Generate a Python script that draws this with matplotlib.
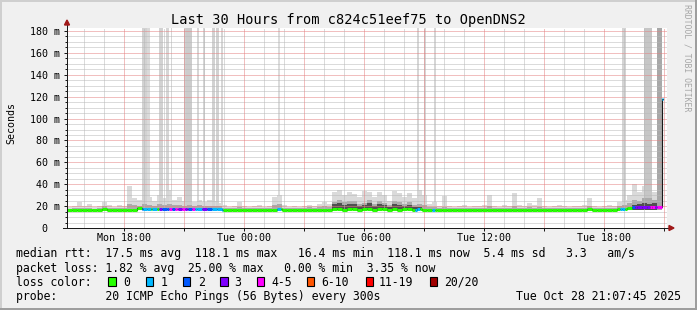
import numpy as np
import matplotlib
matplotlib.use("Agg")
import matplotlib.pyplot as plt
import matplotlib.dates as mdates
from matplotlib.collections import LineCollection
from matplotlib.patches import Rectangle, Polygon
from matplotlib.ticker import FixedLocator, MultipleLocator
from datetime import datetime, timedelta
from bisect import bisect_right

W, H = 697, 310
MONO = "DejaVu Sans Mono"
plt.rcParams["lines.scale_dashes"] = False

# ---- values ----
title = "Last 30 Hours from c824c51eef75 to OpenDNS2"
t_start = datetime(2025, 10, 27, 15, 7, 45)
t_end = datetime(2025, 10, 28, 21, 7, 45)
bin_hours = 0.25      # one value per 15 min
data_end_h = 29.8

# median rtt (ms) per bin
median = [
    16.8, 16.8, 16.8, 16.8, 16.8, 16.8, 16.8, 17.0, 16.8, 16.8, 16.8, 16.8,
    16.8, 16.8, 18.3, 17.5, 17.5, 17.5, 17.8, 17.8, 17.5, 17.5, 17.8, 17.8,
    17.8, 17.5, 17.5, 17.5, 17.5, 17.5, 17.5, 16.8, 16.8, 16.8, 16.8, 16.8,
    16.8, 16.8, 16.8, 16.8, 16.8, 16.8, 17.2, 16.8, 16.8, 16.8, 16.8, 16.8,
    16.8, 16.8, 16.8, 16.8, 16.8, 17.2, 17.8, 16.8, 17.2, 17.2, 16.8, 17.5,
    17.0, 16.8, 17.5, 17.2, 16.8, 17.5, 16.8, 17.2, 17.0, 16.8, 17.3, 16.8,
    16.8, 16.8, 16.8, 16.8, 16.8, 16.8, 16.8, 16.8, 16.8, 16.8, 16.8, 16.8,
    16.8, 16.8, 16.8, 16.8, 16.8, 16.8, 16.8, 16.8, 16.8, 16.8, 16.8, 16.8,
    16.8, 16.8, 16.8, 16.8, 16.8, 16.8, 16.8, 16.8, 17.0, 16.8, 16.8, 16.8,
    16.8, 16.8, 17.0, 17.5, 18.0, 19.0, 19.2, 19.2, 19.0, 19.5, 19.2, 118.1,
]

# smoke: max ping, upper core, dark core (0 = none)
smoke_max = [
    19, 20, 24, 20, 22, 19, 20, 24, 21, 19, 21, 20,
    38, 27, 26, 30, 28, 25, 30, 27, 35, 26, 28, 25,
    27, 24, 26, 24, 26, 25, 23, 21, 19, 20, 24, 20,
    19, 20, 21, 19, 20, 28, 30, 21, 19, 20, 19, 20,
    21, 20, 22, 24, 22, 33, 35, 30, 33, 31, 28, 34,
    33, 28, 33, 30, 25, 34, 32, 28, 32, 27, 35, 30,
    22, 24, 20, 29, 20, 19, 20, 21, 19, 20, 20, 21,
    30, 20, 19, 21, 20, 32, 21, 20, 23, 21, 27, 20,
    19, 20, 21, 20, 19, 20, 20, 21, 27, 20, 19, 20,
    21, 20, 24, 26, 30, 40, 33, 38, 40, 33, 40, np.nan,
]
smoke_core = [
    17.5, 18, 18.5, 18, 18, 17.5, 18, 20, 18.5, 18, 18, 18,
    22, 21, 20, 22, 21, 20, 22, 21, 22, 21, 21, 20,
    21, 20, 21, 20, 20, 20, 20, 18.5, 18, 18, 19, 18,
    18, 18, 18, 18, 18, 21, 22, 18, 18, 18, 18, 18.5,
    19, 18.5, 19, 20, 19.5, 24, 26, 24, 25, 25, 22, 23,
    26, 22, 25, 23, 21, 25, 24, 22, 24, 21, 22, 21,
    19, 19, 18, 19, 18, 18, 18, 18, 18, 18, 18, 18,
    20, 18, 18, 18, 18, 20, 18, 18, 19.5, 18, 19, 18,
    18, 18, 18, 18, 18, 18, 18, 18, 20, 18, 18, 18,
    18, 18, 20, 21, 23, 26, 25, 27, 27, 26, 28, np.nan,
]
smoke_dark = [
    0, 0, 0, 0, 0, 0, 0, 0, 0, 0, 0, 0,
    0, 0, 0, 0, 0, 0, 0, 0, 0, 0, 0, 0,
    0, 0, 0, 0, 0, 0, 0, 0, 0, 0, 0, 0,
    0, 0, 0, 0, 0, 0, 0, 0, 0, 0, 0, 0,
    0, 0, 0, 0, 0, 22, 23, 21, 22, 22, 20, 21,
    23, 20, 22, 21, 19.5, 22, 21, 20, 21, 19.5, 19, 19,
    0, 0, 0, 0, 0, 0, 0, 0, 0, 0, 0, 0,
    0, 0, 0, 0, 0, 0, 0, 0, 0, 0, 0, 0,
    0, 0, 0, 0, 0, 0, 0, 0, 0, 0, 0, 0,
    0, 0, 0, 0, 0, 21, 22, 23, 22, 23, 24, 0,
]

# tall spikes (hours since start)
spike_start_h = [3.775, 4.0, 4.6, 4.975, 5.175, 5.825, 5.95, 6.5, 6.825, 7.25,
                 7.45, 7.7, 10.575, 17.5, 17.85, 18.325, 27.775, 28.85, 29.475]
spike_end_h = [3.975, 4.175, 4.8, 5.075, 5.25, 5.925, 6.225, 6.6, 6.925, 7.4,
               7.6, 7.8, 10.675, 17.625, 17.95, 18.45, 27.95, 29.25, 29.735]
spike_shade = ["#d2d2d2", "#dadada", "#d2d2d2", "#d6d6d6", "#d6d6d6", "#d0d0d0",
               "#cccccc", "#d6d6d6", "#d6d6d6", "#d2d2d2", "#d2d2d2", "#d6d6d6",
               "#dcdcdc", "#d6d6d6", "#d6d6d6", "#d6d6d6", "#d4d4d4", "#c6c6c6",
               "#a8a8a8"]

# packet loss bucket, starting at the given hour
loss_start_h = [0.0, 3.735, 3.815, 4.185, 4.235, 4.485, 4.585, 4.735, 5.1, 5.235,
                5.4, 5.565, 5.735, 5.9, 6.05, 6.235, 6.4, 6.735, 6.985, 7.235,
                7.815, 10.485, 10.7, 17.4, 17.65, 18.235, 18.4, 27.65, 27.9, 28.235,
                28.4, 29.15, 29.4, 29.485, 29.75]
loss_level = [0, 2, 1, 0, 1, 0, 3, 2, 4, 2,
              4, 3, 4, 3, 2, 4, 1, 3, 2, 1,
              0, 1, 0, 1, 0, 1, 0, 1, 0, 2,
              3, 4, 3, 4, 1]

loss_labels = ["0", "1", "2", "3", "4-5", "6-10", "11-19", "20/20"]
loss_colors = ["#26ff00", "#00b8ff", "#0059ff", "#7e00ff",
               "#ff00ff", "#ff5500", "#ff0000", "#a10000"]

y_ticks = [0, 20, 40, 60, 80, 100, 120, 140, 160, 180]
y_labels = ["0", "20 m", "40 m", "60 m", "80 m", "100 m", "120 m", "140 m", "160 m", "180 m"]

legend_rtt = "median rtt:  17.5 ms avg  118.1 ms max   16.4 ms min  118.1 ms now  5.4 ms sd   3.3   am/s"
legend_loss = "packet loss: 1.82 % avg  25.00 % max   0.00 % min  3.35 % now"
legend_probe = "probe:       20 ICMP Echo Pings (56 Bytes) every 300s"
stamp = "Tue Oct 28 21:07:45 2025"


def fx(px):
    return px / W


def fy(py):
    return 1 - py / H


x0 = mdates.date2num(t_start)


def tnum(h):
    return x0 + np.asarray(h, dtype=float) / 24.0


fig = plt.figure(figsize=(W / 100, H / 100), dpi=100, facecolor="#f0f0f0")
ax = fig.add_axes([fx(67), fy(228), 600 / W, 200 / H])
ax.set_facecolor("white")
ymax = 200 / (197 / 180)
ax.set_xlim(tnum(0), mdates.date2num(t_end))
ax.set_ylim(0, ymax)
for s in ax.spines.values():
    s.set_visible(False)

n = len(median)
edges = tnum(np.arange(n + 1) * bin_hours)


def stepvals(v):
    v = np.asarray(v, dtype=float)
    return np.append(v, v[-1])


# smoke
ax.fill_between(edges, 16.0, stepvals(smoke_max), step="post", color="#dadada", lw=0, zorder=1)
for a, b, c in zip(spike_start_h, spike_end_h, spike_shade):
    ax.fill_between(tnum([a, b]), 16.0, ymax, color=c, lw=0, zorder=1.2)
ax.fill_between(edges, 16.0, stepvals(smoke_core), step="post", color="#ababab", lw=0, zorder=1.4)
dark = np.where(np.array(smoke_dark, float) > 0, smoke_dark, np.nan)
ax.fill_between(edges, 16.0, stepvals(dark), step="post", color="#505050", lw=0, zorder=1.5)

# grid, 1px dots
px = 72 / 100
dots = (0, (px, px))
for v in np.arange(5, 185, 5):
    c = "#e48080" if v % 20 == 0 else "#b8b8b8"
    ax.axhline(v, color=c, lw=px, ls=dots, zorder=2, snap=True)
t = t_start.replace(minute=0, second=0) + timedelta(hours=1)
while t < t_end:
    c = "#e48080" if t.hour % 3 == 0 else "#b8b8b8"
    ax.axvline(mdates.date2num(t), color=c, lw=px, ls=dots, zorder=2, snap=True)
    t += timedelta(hours=1)

# median line: thin dark step plus loss-coloured segments
xs = tnum(np.append(np.arange(n) * bin_hours, data_end_h))
ax.step(xs, stepvals(median), where="post", color="#1a1a1a", lw=0.8, zorder=3)

cuts = sorted(set(list(np.arange(n) * bin_hours) + loss_start_h + [data_end_h]))
cuts = [c for c in cuts if c <= data_end_h]
segs, cols = [], []
for a, b in zip(cuts[:-1], cuts[1:]):
    m = median[min(int(np.floor(a / bin_hours + 1e-9)), n - 1)]
    lv = loss_level[bisect_right(loss_start_h, a + 1e-9) - 1]
    segs.append([(tnum(a), m), (tnum(b), m)])
    cols.append(loss_colors[lv])
ax.add_collection(LineCollection(segs, colors=cols, linewidths=2.2, zorder=4, capstyle="butt"))

# axes, arrows
axis_c = "#1a1a1a"
arrow_c = "#a01818"
ax.plot([0, 0], [0, 1 + 5 / 200], transform=ax.transAxes, color=axis_c, lw=px,
        clip_on=False, zorder=5, antialiased=False)
ax.plot([-4 / 600, 1 + 2 / 600], [0, 0], transform=ax.transAxes, color=axis_c, lw=px,
        clip_on=False, zorder=5, antialiased=False)
ax.add_patch(Polygon([(-2.5 / 600, 1 + 3 / 200), (2.5 / 600, 1 + 3 / 200), (0, 1 + 8 / 200)],
                     closed=True, transform=ax.transAxes, color=arrow_c, clip_on=False, zorder=6))
ax.add_patch(Polygon([(1 + 2 / 600, 2.5 / 200), (1 + 2 / 600, -2.5 / 200), (1 + 7 / 600, 0)],
                     closed=True, transform=ax.transAxes, color=arrow_c, clip_on=False, zorder=6))

# ticks
ax.xaxis_date()
ax.xaxis.set_major_locator(mdates.HourLocator(byhour=[0, 6, 12, 18]))
ax.xaxis.set_major_formatter(mdates.DateFormatter("%a %H:%M"))
ax.xaxis.set_minor_locator(mdates.HourLocator(byhour=range(0, 24, 3)))
ax.yaxis.set_major_locator(FixedLocator(y_ticks))
ax.yaxis.set_minor_locator(MultipleLocator(5))
ax.tick_params(axis="x", which="both", length=2.2, width=px, color=axis_c, pad=1.6,
               labelsize=7.2)
ax.tick_params(axis="y", which="major", length=2.5, width=px, color=axis_c, labelleft=False)
ax.tick_params(axis="y", which="minor", length=1.5, width=px, color=axis_c)
for lab in ax.get_xticklabels():
    lab.set_family(MONO)

cw = 6.0  # px per char of tick font
for v, lab in zip(y_ticks, y_labels):
    right = -7.5 if " " in lab else -7.5 - 2 * cw
    ax.text(right / 600, v, lab, transform=ax.get_yaxis_transform(), ha="right",
            va="center_baseline", fontsize=7.2, family=MONO)

# texts
fig.text(fx(348.5), fy(24), title, ha="center", va="baseline", fontsize=9.8, family=MONO)
fig.text(fx(11), fy(122.5), "Seconds", rotation=90, ha="center", va="center",
         fontsize=7.2, family=MONO)
fig.text(fx(687), fy(4), "RRDTOOL / TOBI OETIKER", rotation=270, ha="center", va="top",
         fontsize=5.9, color="#a6a6a6", family=MONO)

fig.text(fx(16), fy(257.5), legend_rtt, ha="left", va="baseline", fontsize=8.3, family=MONO)
fig.text(fx(16), fy(271.6), legend_loss, ha="left", va="baseline", fontsize=8.3, family=MONO)
fig.text(fx(16), fy(285.7), "loss color:", ha="left", va="baseline", fontsize=8.3, family=MONO)
fig.text(fx(16), fy(299.8), legend_probe, ha="left", va="baseline", fontsize=8.3, family=MONO)
fig.text(fx(680.5), fy(299.8), stamp, ha="right", va="baseline", fontsize=8.3, family=MONO)

sq_x = [108.3, 145.7, 183.0, 220.3, 257.0, 307.0, 366.0, 430.0]
lab_x = [123.0, 160.7, 198.0, 234.0, 271.3, 321.3, 378.3, 444.0]
for sx, lx, lab, col in zip(sq_x, lab_x, loss_labels, loss_colors):
    fig.add_artist(Rectangle((fx(sx), fy(285.5)), 7.4 / W, 8.2 / H, transform=fig.transFigure,
                             facecolor=col, edgecolor="black", lw=0.8))
    fig.text(fx(lx), fy(285.7), lab, ha="left", va="baseline", fontsize=8.3, family=MONO)

# 3d frame shade
fig.add_artist(Rectangle((0, fy(2)), 1, 2 / H, transform=fig.transFigure, color="#cfcfcf", lw=0))
fig.add_artist(Rectangle((0, 0), 2 / W, 1, transform=fig.transFigure, color="#cfcfcf", lw=0))
fig.add_artist(Rectangle((0, 0), 1, 2 / H, transform=fig.transFigure, color="#9e9e9e", lw=0))
fig.add_artist(Rectangle((fx(695), 0), 2 / W, 1, transform=fig.transFigure, color="#9e9e9e", lw=0))

fig.savefig("out.png", dpi=100, facecolor=fig.get_facecolor())
